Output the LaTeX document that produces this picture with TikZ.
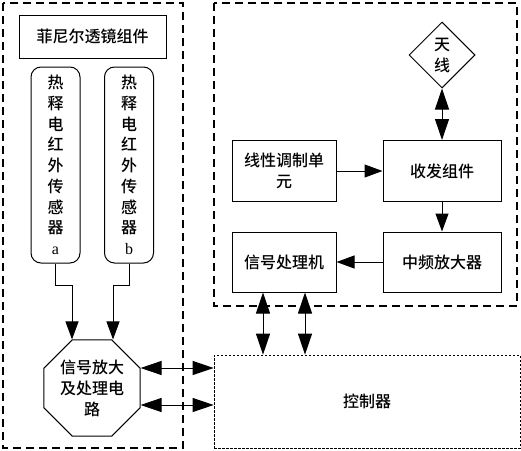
\documentclass[tikz,border=0pt]{standalone}
\usepackage{fontspec}
\setmainfont{Liberation Serif}
\newfontfamily\cjk{Noto Sans CJK SC Medium}
\usepackage{tikz}
\usetikzlibrary{arrows.meta, positioning, shapes.geometric}

\begin{document}
\begin{tikzpicture}[x=1pt,y=-1pt,on grid,line width=1pt]
    \tikzstyle{block}=[shape=rectangle,draw,line width=1pt,minimum width=104pt,minimum height=61pt,align=center,inner sep=2pt,font=\cjk\fontsize{16}{21}\selectfont]
    \tikzstyle{sensor}=[block,rounded corners=10pt,minimum width=49pt,minimum height=196pt,font=\cjk\fontsize{16}{20.7}\selectfont]
    \tikzstyle{group}=[draw,line width=2.2pt,dash pattern=on 8pt off 5pt]
    \tikzstyle{arr}=[-{Triangle[length=18pt,width=13pt]}]
    \tikzstyle{dbl}=[{Triangle[length=21pt,width=14pt]}-{Triangle[length=21pt,width=14pt]}]

    \useasboundingbox (0,0) rectangle (521,450);

    % left part
    \draw[group] (3,3) rectangle (183,448);
    \node[block, minimum width=147pt, minimum height=43pt] (F0) at (92.5,36.5) {菲尼尔透镜组件};
    \node[sensor] (Sa) at (55.5,165) {热\\释\\电\\红\\外\\传\\感\\器\\{\rmfamily a}};
    \node[sensor, right=73.5pt of Sa] (Sb) {热\\释\\电\\红\\外\\传\\感\\器\\{\rmfamily b}};
    \node[block, shape=regular polygon, regular polygon sides=8, minimum size=104pt, inner sep=0pt] (S1) at (92,388) {信号放大\\及处理电\\路};

    % right part
    \draw[group] (214,3) rectangle (517,306);
    \node[block] (L1) at (284,171) {线性调制单\\元};
    \node[block, right=158pt of L1, minimum width=118pt] (T1) {收发组件};
    \node[block, below=91pt of L1, minimum height=60pt] (P1) {信号处理机};
    \node[block, below=91pt of T1, minimum width=118pt, minimum height=60pt] (M1) {中频放大器};
    \node[block, shape=diamond, minimum size=66pt, inner sep=0pt] (AN) at (442,55) {天\\线};

    % controller
    \node[block, line width=0.7pt, dash pattern=on 2.5pt off 1.5pt, minimum width=306pt, minimum height=93pt] (C0) at (367,401.5) {控制器};

    \path[arr, draw]
    (L1) edge (T1)
    (T1) edge (M1)
    (M1) edge (P1)
    (AN) edge[dbl] (T1)
    ;
    \draw[arr] (Sa.south) -- ++(0,22) -| ([xshift=-20pt]S1.north);
    \draw[arr] (Sb.south) -- ++(0,22) -| ([xshift=21pt]S1.north);
    \draw[dbl] ([yshift=20pt]S1.east) -- ([yshift=20pt]S1.east -| C0.west);
    \draw[dbl] ([yshift=-17pt]S1.east) -- ([yshift=-17pt]S1.east -| C0.west);
    \draw[dbl] ([xshift=-21pt]P1.south) -- ([xshift=-21pt]P1.south |- C0.north);
    \draw[dbl] ([xshift=21pt]P1.south) -- ([xshift=21pt]P1.south |- C0.north);
\end{tikzpicture}
\end{document}
